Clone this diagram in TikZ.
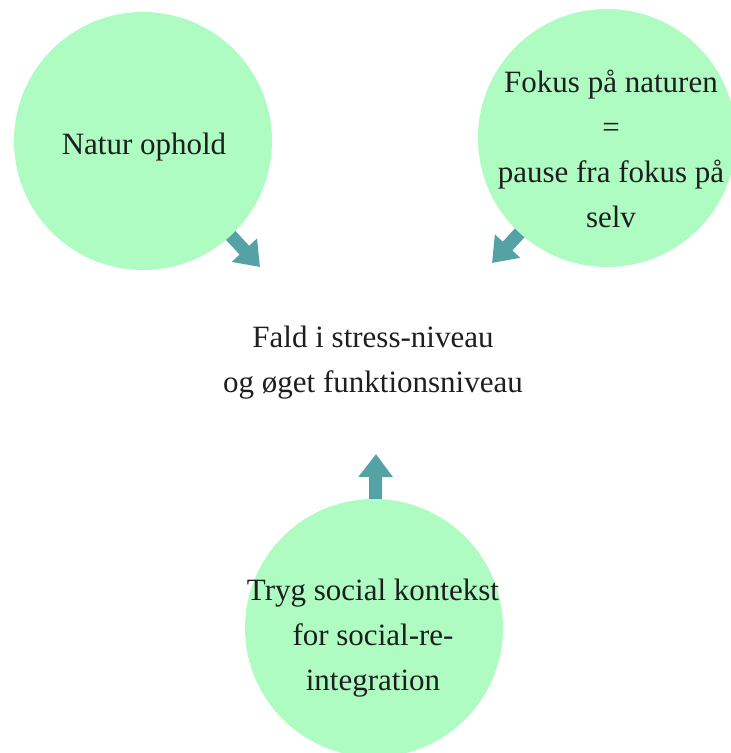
\documentclass[tikz,border=0pt]{standalone}
\usepackage{fontspec}
\setmainfont{Liberation Serif}
\usetikzlibrary{arrows.meta,backgrounds}
\definecolor{mint}{RGB}{175,252,195}
\definecolor{teal2}{RGB}{85,162,164}
\definecolor{ink}{RGB}{30,30,30}
\begin{document}
\begin{tikzpicture}[x=1pt,y=-1pt,
  bubble/.style={circle,fill=mint,minimum size=258pt,inner sep=0pt},
  txt/.style={align=center,anchor=base,text=ink,inner sep=0pt,font=\fontsize{31}{45}\selectfont},
  arr/.style={draw=teal2,line width=13pt,-{Triangle[width=33pt,length=23pt]},fill=teal2}
]
\useasboundingbox (0,0) rectangle (731,753);
% circles
\node[bubble] (c1) at (143,141) {};
\node[bubble] (c2) at (607,138) {};
\node[bubble] (c3) at (374,628) {};
% arrow tips
\coordinate (t1) at (260,267);
\coordinate (t2) at (492,263);
\coordinate (t3) at (376,454);
% arrows (under circles)
\begin{scope}[on background layer]
\draw[arr] (c1.center) -- (t1);
\draw[arr] (c2.center) -- (t2);
\draw[arr] (c3.center) -- (t3);
\end{scope}
% texts (anchor = baseline of last line)
\node[txt] (l1) at (144,154) {Natur ophold};
\node[txt] (l2) at (611,227) {Fokus på naturen\\=\\pause fra fokus på\\selv};
\node[txt] (mid) at (373,392) {Fald i stress-niveau\\og øget funktionsniveau};
\node[txt] (l3) at (373,690) {Tryg social kontekst\\for social-re-\\integration};
\end{tikzpicture}
\end{document}
